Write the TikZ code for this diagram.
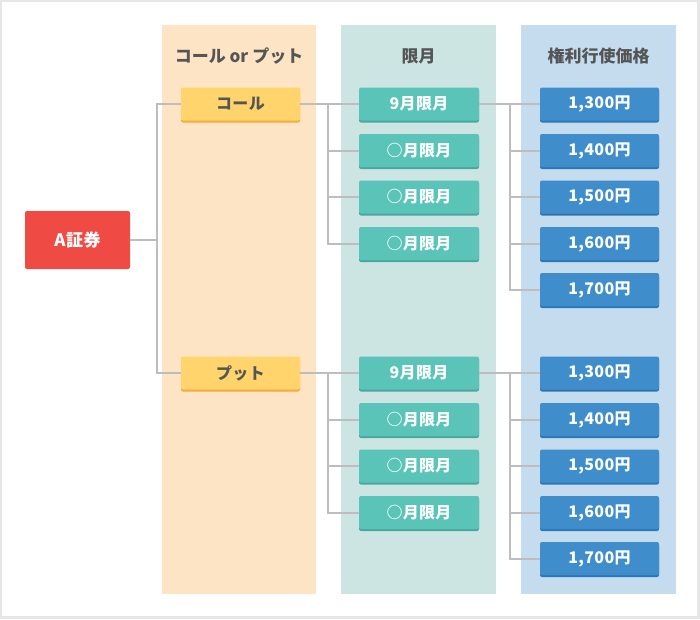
\documentclass[tikz,border=0pt]{standalone}
\usepackage{fontspec}
\setmainfont{Noto Sans CJK JP}
\usetikzlibrary{calc}
\definecolor{frame}{HTML}{E6E6E6}
\definecolor{colA}{HTML}{FDE4C5}
\definecolor{colB}{HTML}{CDE5E2}
\definecolor{colC}{HTML}{C5DCEF}
\definecolor{redbox}{HTML}{EF4A44}
\definecolor{yel}{HTML}{FFD46C}
\definecolor{yeldark}{HTML}{F7A93A}
\definecolor{teal}{HTML}{5BC4B9}
\definecolor{tealdark}{HTML}{47A99E}
\definecolor{blu}{HTML}{3F8ECB}
\definecolor{bludark}{HTML}{2B78B8}
\definecolor{linec}{HTML}{BDBDBD}
\definecolor{txt}{HTML}{555555}
\tikzset{
  box/.style={rounded corners=2pt, minimum height=33pt, inner sep=0pt,
    font=\fontsize{16}{16}\selectfont\bfseries\addfontfeature{LetterSpace=2}},
  callbox/.style={box, fill=yel, text=txt, minimum width=119pt,
    preaction={fill=yeldark, transform canvas={yshift=-2pt}}},
  monthbox/.style={box, fill=teal, text=white, minimum width=120pt,
    preaction={fill=tealdark, transform canvas={yshift=-2pt}}},
  pricebox/.style={box, fill=blu, text=white, minimum width=119pt,
    preaction={fill=bludark, transform canvas={yshift=-2pt}}},
  header/.style={text=txt, font=\fontsize{17}{17}\selectfont\bfseries},
  conn/.style={draw=linec, line width=2pt},
}
\begin{document}
\begin{tikzpicture}[x=1pt,y=-1pt]
\fill[frame] (0,0) rectangle (700,619);
\fill[white] (2,2) rectangle (697,616);
\useasboundingbox (0,0) rectangle (700,619);
% columns
\fill[colA] (162,25) rectangle (316,594);
\fill[colB] (341,25) rectangle (496,594);
\fill[colC] (521,25) rectangle (676,594);
\node[header] (h1) at (239,56) {コール or プット};
\node[header] (h2) at (418.5,56) {限月};
\node[header] (h3) at (598.5,56) {権利行使価格};
% main
\node[box, fill=redbox, text=white, minimum width=105pt, minimum height=58pt, font=\fontsize{17}{17}\selectfont\bfseries\addfontfeature{LetterSpace=3}] (a) at (77.5,240) {A証券};
\node[callbox] (call) at (240.5,104) {コール};
\node[callbox] (put) at (240.5,373) {プット};
% months
\node[monthbox] (cm1) at (419,104) {9月限月};
\node[monthbox] (cm2) at (419,150.5) {○月限月};
\node[monthbox] (cm3) at (419,197) {○月限月};
\node[monthbox] (cm4) at (419,243.5) {○月限月};
\node[monthbox] (pm1) at (419,373) {9月限月};
\node[monthbox] (pm2) at (419,419.5) {○月限月};
\node[monthbox] (pm3) at (419,466) {○月限月};
\node[monthbox] (pm4) at (419,512.5) {○月限月};
% prices
\node[pricebox] (cp1) at (599.5,104) {1,300円};
\node[pricebox] (cp2) at (599.5,150.5) {1,400円};
\node[pricebox] (cp3) at (599.5,197) {1,500円};
\node[pricebox] (cp4) at (599.5,243.5) {1,600円};
\node[pricebox] (cp5) at (599.5,289.5) {1,700円};
\node[pricebox] (pp1) at (599.5,373) {1,300円};
\node[pricebox] (pp2) at (599.5,419.5) {1,400円};
\node[pricebox] (pp3) at (599.5,466) {1,500円};
\node[pricebox] (pp4) at (599.5,512.5) {1,600円};
\node[pricebox] (pp5) at (599.5,558.5) {1,700円};
% connectors
\coordinate (j1) at (157,240);
\draw[conn] (a.east) -- (j1);
\draw[conn] (call.west) -| (j1) |- (put.west);
\coordinate (j2) at (328,104);
\coordinate (j3) at (328,373);
\coordinate (j4) at (510,104);
\coordinate (j5) at (510,373);
\draw[conn] (call.east) -- (cm1.west);
\draw[conn] (put.east) -- (pm1.west);
\draw[conn] (cm1.east) -- (cp1.west);
\draw[conn] (pm1.east) -- (pp1.west);
\foreach \i in {2,3,4} {
  \draw[conn] (j2) |- (cm\i.west);
  \draw[conn] (j3) |- (pm\i.west);
}
\foreach \i in {2,3,4,5} {
  \draw[conn] (j4) |- (cp\i.west);
  \draw[conn] (j5) |- (pp\i.west);
}
\end{tikzpicture}
\end{document}
